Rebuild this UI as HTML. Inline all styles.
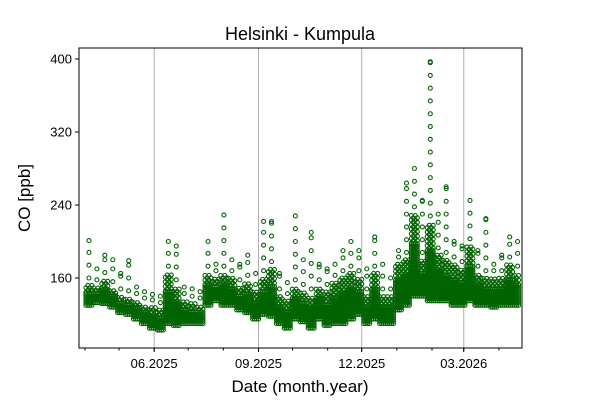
<!DOCTYPE html>
<html><head><meta charset="utf-8"><style>
html,body{margin:0;padding:0;background:#fff;}
svg{display:block;font-family:"Liberation Sans","DejaVu Sans",sans-serif;}
</style></head><body>
<svg id="chart" width="600" height="400" viewBox="0 0 600 400">
<text x="300" y="40" text-anchor="middle" font-size="18">Helsinki - Kumpula</text>
<g id="grid"></g>
<g id="marks"></g>
<rect x="79" y="48" width="443" height="300" fill="none" stroke="#000" stroke-width="1"/>
<g id="axes"></g>
<text x="300" y="392" text-anchor="middle" font-size="17">Date (month.year)</text>
<text transform="translate(30,198) rotate(-90)" text-anchor="middle" font-size="17">CO [ppb]</text>
</svg>
<script>
// week index starts 2025-04-01, each entry covers 7 days
const weekLow  = [130,133,132,128,122,120,115,110,105,103,110,108,110,110,110,130,135,130,130,125,122,115,120,118,110,105,115,112,105,115,108,110,110,115,120,110,115,110,110,125,130,140,140,135,135,135,130,130,135,130,130,128,130,130,130];
const weekHigh = [152,150,158,148,140,138,135,130,128,125,165,150,135,132,130,165,160,165,160,150,155,145,160,170,140,135,150,145,140,150,145,155,160,165,160,140,165,140,140,175,180,230,180,220,185,180,175,170,195,165,160,160,160,175,165];
const weekPeak = [201,170,185,180,165,179,150,145,142,140,200,195,150,148,145,200,175,229,180,175,185,165,222,222,165,155,228,180,210,175,170,175,190,200,190,170,205,175,160,190,264,280,245,397,230,260,200,195,245,190,225,175,185,205,200];
const yTicks = [160,240,320,400];
const xTickLabels = ["06.2025","09.2025","12.2025","03.2026"];
const xTickDays = [61,153,244,334];
const minorTickDays = [0,30,61,91,122,153,183,214,244,275,306,334,365];

const NS="http://www.w3.org/2000/svg";
const X = d => 85 + d*1.134;
const Y = v => 278 - (v-160)*0.9125;
function mk(tag, attrs, parent){const e=document.createElementNS(NS,tag);for(const k in attrs)e.setAttribute(k,attrs[k]);parent.appendChild(e);return e;}
const grid=document.getElementById('grid'), marks=document.getElementById('marks'), axes=document.getElementById('axes');

xTickDays.forEach((d,i)=>{
  const g=mk('line',{x1:X(d),x2:X(d),y1:48,y2:348,stroke:'#b0b0b0','stroke-width':1},grid);
  
  
  const t=mk('line',{x1:X(d),x2:X(d),y1:348,y2:352,stroke:'#000'},axes);
  
  
  const l=mk('text',{x:X(d),y:368,'text-anchor':'middle','font-size':13},axes);
  l.textContent=xTickLabels[i];
  
  
});
minorTickDays.forEach(d=>{
  const t=mk('line',{x1:X(d),x2:X(d),y1:348,y2:350.5,stroke:'#000'},axes);
  
  
});
yTicks.forEach(v=>{
  const t=mk('line',{x1:75,x2:79,y1:Y(v),y2:Y(v),stroke:'#000'},axes);
  
  
  const l=mk('text',{x:72,y:Y(v)+4.5,'text-anchor':'end','font-size':13},axes);
  l.textContent=v;
  
  
});

weekLow.forEach((lo,w)=>{
  const hi=weekHigh[w], pk=weekPeak[w];
  const g=mk('g',{fill:'none',stroke:'#006400','stroke-width':1.1},marks);
  
  
  const d0=w*7;
  const mid=lo+0.65*(hi-lo);
  for(let c=0;c<4;c++){
    const x=X(d0+c*1.75+0.8);
    if(x>519) continue;
    for(let v=lo; v<=mid; v+=2.5){ mk('circle',{cx:x,cy:Y(v),r:2},g); }
    for(let v=mid+(c%2)*2.5; v<=hi; v+=5){ mk('circle',{cx:x,cy:Y(v),r:2},g); }
  }
  const xm=X(d0+3.5);
  if(xm<=519){ for(let v=hi+8; v<pk; v+=14){ mk('circle',{cx:xm,cy:Y(v),r:2},g); }
    mk('circle',{cx:xm,cy:Y(pk),r:2},g); }
});
</script>
</body></html>
